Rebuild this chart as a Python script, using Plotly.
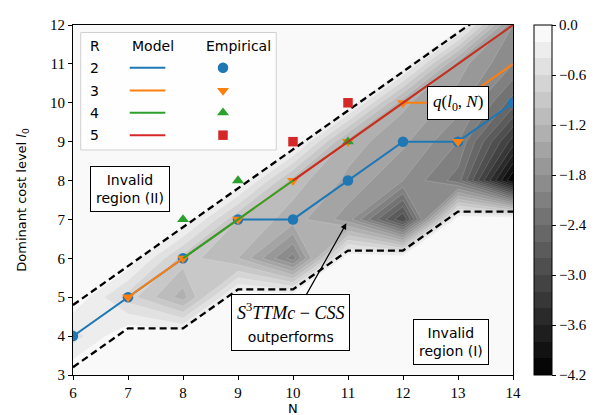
import plotly.graph_objects as go

# ---------------- data ----------------
N_vals = [6, 7, 8, 9, 10, 11, 12, 13, 14]
l0_vals = [3, 4, 5, 6, 7, 8, 9, 10, 11, 12]

# q(l0, N) for each column N, l0 = 3..12 (0 = invalid region)
q_N6 = [0, -0.5, 0, 0, 0, 0, 0, 0, 0, 0]
q_N7 = [0, 0, -0.7, 0, 0, 0, 0, 0, 0, 0]
q_N8 = [0, 0, -1.3, -0.9, 0, 0, 0, 0, 0, 0]
q_N9 = [0, 0, 0, -1.2, -1.0, 0, 0, 0, 0, 0]
q_N10 = [0, 0, 0, -2.1, -1.3, -1.1, 0, 0, 0, 0]
q_N11 = [0, 0, 0, 0, -1.7, -1.45, -1.3, 0, 0, 0]
q_N12 = [0, 0, 0, 0, -3.0, -1.8, -1.55, -1.35, 0, 0]
q_N13 = [0, 0, 0, 0, 0, -2.3, -2.0, -1.7, -1.5, 0]
q_N14 = [0, 0, 0, 0, 0, -4.2, -3.3, -2.5, -2.0, -1.8]

upper_bound = [4.8, 5.8, 6.8, 7.8, 8.8, 9.8, 10.8, 11.8, 12.8]
lower_bound = [3.2, 4.2, 4.2, 5.2, 5.2, 6.2, 6.2, 7.2, 7.2]

model_N = {2: [6, 7, 8, 9, 10, 11, 12, 13, 14],
           3: [7, 8, 9, 10, 11, 12, 13, 14],
           4: [8, 9, 10, 11, 12, 13, 14],
           5: [10, 11, 12, 13, 14]}
model_l0 = {2: [4, 5, 6, 7, 7, 8, 9, 9, 10],
            3: [5, 6, 7, 8, 9, 10, 10, 11],
            4: [6, 7, 8, 9, 10, 11, 12],
            5: [8, 9, 10, 11, 12]}
emp_N = {2: [6, 7, 8, 9, 10, 11, 12, 13, 14],
         3: [7, 8, 9, 10, 11, 12, 13],
         4: [8, 9, 11],
         5: [10, 11]}
emp_l0 = {2: [4, 5, 6, 7, 7, 8, 9, 9, 10],
          3: [5, 6, 7, 8, 9, 10, 9],
          4: [7, 8, 9],
          5: [9, 10]}

R_list = [2, 3, 4, 5]
colors = {2: '#1f77b4', 3: '#ff7f0e', 4: '#2ca02c', 5: '#d62728'}
symbols = {2: 'circle', 3: 'triangle-down', 4: 'triangle-up', 5: 'square'}
msizes = {2: 10.5, 3: 10.5, 4: 10.5, 5: 9.5}

cbar_ticks = [0.0, -0.6, -1.2, -1.8, -2.4, -3.0, -3.6, -4.2]
q_min, q_max, q_step = -4.2, 0.0, 0.2

# ---------------- figure ----------------
columns = [q_N6, q_N7, q_N8, q_N9, q_N10, q_N11, q_N12, q_N13, q_N14]
z = [[columns[j][i] for j in range(len(N_vals))] for i in range(len(l0_vals))]

SERIF = 'Liberation Serif'
SANS = 'DejaVu Sans'

# discrete gray colour scale like matplotlib contourf (band midpoints)
nb = int(round((q_max - q_min) / q_step))
disc = []
for i in range(nb):
    g = int(round(255 * (i + 0.5) / nb))
    c = 'rgb(%d,%d,%d)' % (g, g, g)
    disc.append([i / nb, c])
    disc.append([(i + 1) / nb, c])

fig = go.Figure()

fig.add_trace(go.Contour(
    x=N_vals, y=l0_vals, z=z,
    contours=dict(start=q_min + q_step, end=q_max - q_step, size=q_step, coloring='fill'),
    colorscale=[[0, 'rgb(6,6,6)'], [1, 'rgb(249,249,249)']],
    line=dict(width=0.5, color='rgba(255,255,255,0.3)', smoothing=0),
    showscale=False,
    hoverinfo='skip',
))

# colour bar (carried by an invisible marker)
fig.add_trace(go.Scatter(
    x=[6], y=[3], mode='markers', showlegend=False, hoverinfo='skip',
    marker=dict(size=1, opacity=0, color=[q_min], cmin=q_min, cmax=q_max, colorscale=disc,
                showscale=True,
                colorbar=dict(x=1.048, xanchor='left', y=0, yanchor='bottom', len=1.0, lenmode='fraction',
                              ypad=0, xpad=0, thickness=18, outlinewidth=1, outlinecolor='black',
                              tickvals=cbar_ticks,
                              ticktext=[('%.1f' % v).replace('-', '\u2212') for v in cbar_ticks],
                              ticks='outside', ticklen=4, tickcolor='black',
                              tickfont=dict(family=SERIF, size=15, color='black'))),
))

fig.add_trace(go.Scatter(x=N_vals, y=upper_bound, mode='lines',
                         line=dict(color='black', width=2.3, dash='7px,4px'), showlegend=False))
fig.add_trace(go.Scatter(x=N_vals, y=lower_bound, mode='lines',
                         line=dict(color='black', width=2.3, dash='7px,4px'), showlegend=False))

for R in R_list:
    fig.add_trace(go.Scatter(x=model_N[R], y=model_l0[R], mode='lines',
                             line=dict(color=colors[R], width=2), showlegend=False))
    fig.add_trace(go.Scatter(x=emp_N[R], y=emp_l0[R], mode='markers',
                             marker=dict(color=colors[R], symbol=symbols[R], size=msizes[R],
                                         line=dict(width=0)),
                             showlegend=False))

# ---- custom legend on an overlay axis (paper-like coordinates) ----
lx0, lx1, ly0, ly1 = 0.0175, 0.462, 0.643, 0.9785
fig.add_trace(go.Scatter(x=[lx0, lx1, lx1, lx0, lx0], y=[ly0, ly0, ly1, ly1, ly0],
                         xaxis='x2', yaxis='y2', mode='lines', fill='toself',
                         fillcolor='rgba(255,255,255,0.85)', line=dict(color='#d0d0d0', width=1),
                         showlegend=False, hoverinfo='skip'))
row_y = [0.878, 0.8128, 0.7494, 0.6852]
for R, yy in zip(R_list, row_y):
    fig.add_trace(go.Scatter(x=[0.1289, 0.2098], y=[yy, yy], xaxis='x2', yaxis='y2', mode='lines',
                             line=dict(color=colors[R], width=2), showlegend=False, hoverinfo='skip'))
    fig.add_trace(go.Scatter(x=[0.3409], y=[yy], xaxis='x2', yaxis='y2', mode='markers',
                             marker=dict(color=colors[R], symbol=symbols[R], size=msizes[R]),
                             showlegend=False, hoverinfo='skip'))

ann = []
legend_font = dict(family=SANS, size=14, color='black')
ann.append(dict(x=0.035, y=0.9413, xref='paper', yref='paper', text='R', showarrow=False,
                xanchor='left', yanchor='middle', font=legend_font))
ann.append(dict(x=0.1818, y=0.9413, xref='paper', yref='paper', text='Model', showarrow=False,
                xanchor='center', yanchor='middle', font=legend_font))
ann.append(dict(x=0.3765, y=0.9413, xref='paper', yref='paper', text='Empirical', showarrow=False,
                xanchor='center', yanchor='middle', font=legend_font))
for R, yy in zip(R_list, row_y):
    ann.append(dict(x=0.035, y=yy, xref='paper', yref='paper', text=str(R), showarrow=False,
                    xanchor='left', yanchor='middle', font=legend_font))

# x-axis title placed like the reference
ann.append(dict(x=0.5, y=-0.097, xref='paper', yref='paper', text='N', showarrow=False,
                xanchor='center', yanchor='middle', font=dict(family=SANS, size=13, color='black')))

box = dict(bgcolor='white', bordercolor='black', borderwidth=1, borderpad=5)
ann.append(dict(x=7.036, y=7.78, xref='x', yref='y', text='Invalid<br>region (II)', showarrow=False,
                font=dict(family=SANS, size=14, color='black'), **box))
ann.append(dict(x=12.88, y=3.84, xref='x', yref='y', text='Invalid<br>region (I)', showarrow=False,
                font=dict(family=SANS, size=14, color='black'), **box))
ann.append(dict(x=13.0, y=9.99, xref='x', yref='y',
                text='<i>q</i>(<i>l</i><sub>0</sub>, <i>N</i>)', showarrow=False,
                font=dict(family=SERIF, size=17, color='black'), **box))
ann.append(dict(x=10.97, y=6.9, ax=9.955, ay=4.34, xref='x', yref='y', axref='x', ayref='y',
                text='<i>S</i><sup>3</sup><i>TTMc</i> \u2212 <i>CSS</i><br>'
                     '<span style="font-family:DejaVu Sans;font-style:normal;font-size:14px">outperforms</span>',
                showarrow=True, arrowhead=2, arrowsize=1, arrowwidth=1.2, arrowcolor='black',
                font=dict(family=SERIF, size=18, color='black'), **box))

fig.update_layout(
    width=610, height=415,
    margin=dict(l=65, r=105, t=9, b=48),
    paper_bgcolor='white', plot_bgcolor='white',
    showlegend=False,
    annotations=ann,
    xaxis=dict(range=[6, 14], tickvals=N_vals, ticks='outside', ticklen=4, tickcolor='black',
               showline=True, mirror=True, linecolor='black', linewidth=1, showgrid=False, zeroline=False,
               tickfont=dict(family=SERIF, size=15, color='black')),
    yaxis=dict(range=[3, 12], tickvals=l0_vals, ticks='outside', ticklen=4, tickcolor='black',
               showline=True, mirror=True, linecolor='black', linewidth=1, showgrid=False, zeroline=False,
               tickfont=dict(family=SERIF, size=15, color='black'),
               title=dict(text='Dominant cost level <i>l</i><sub>0</sub>',
                          font=dict(family=SANS, size=13, color='black'), standoff=20)),
    xaxis2=dict(domain=[0, 1], range=[0, 1], overlaying='x', anchor='y2', visible=False, fixedrange=True),
    yaxis2=dict(domain=[0, 1], range=[0, 1], overlaying='y', anchor='x2', visible=False, fixedrange=True),
)

fig.write_html('out.html')
